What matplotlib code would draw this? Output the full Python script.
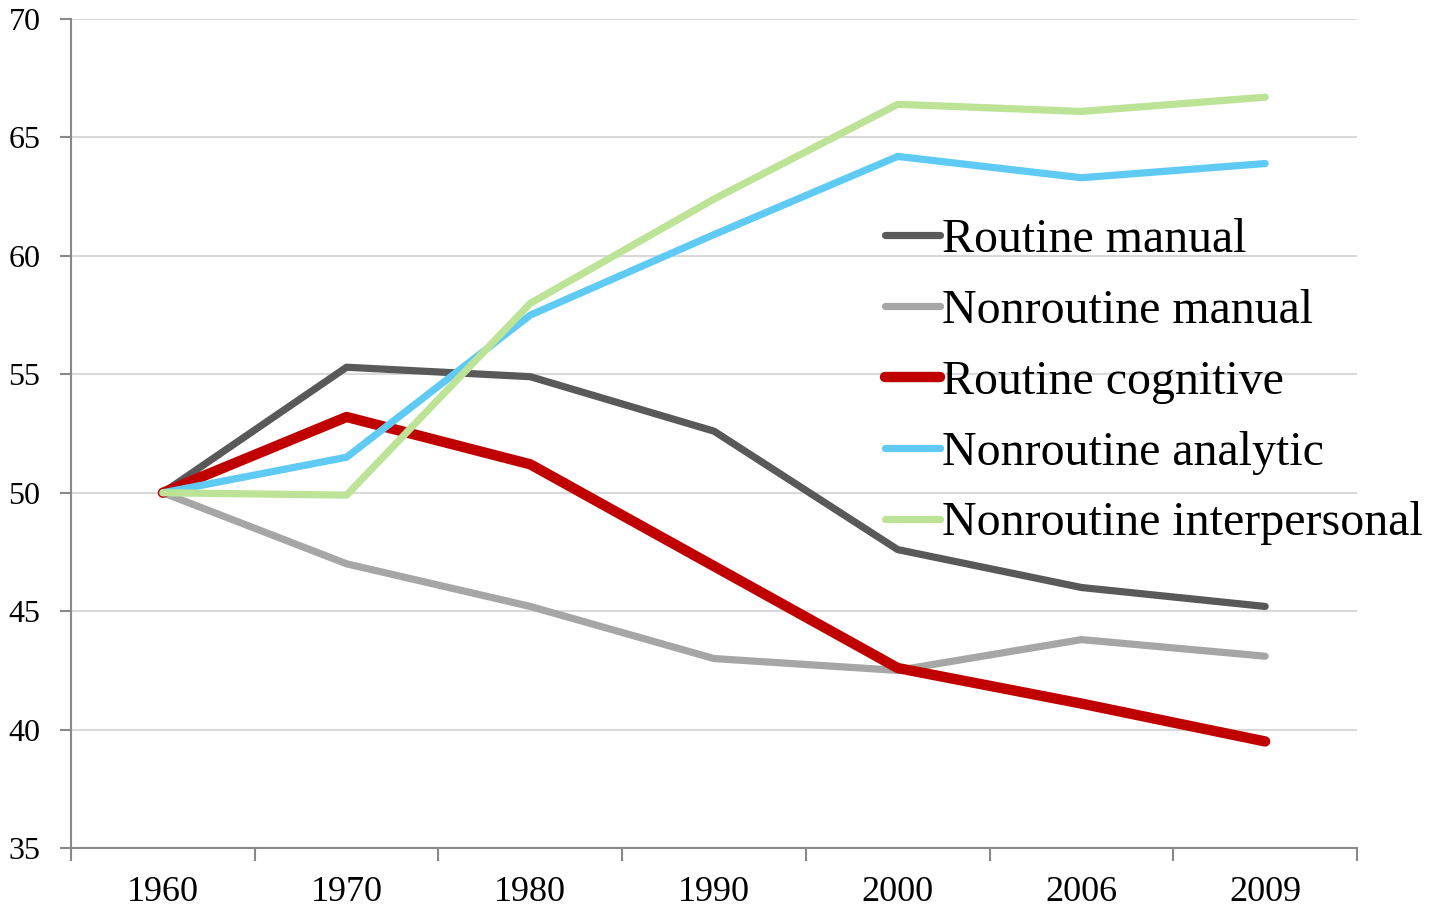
import numpy as np
import matplotlib
matplotlib.use("Agg")
import matplotlib.pyplot as plt

years = ["1960", "1970", "1980", "1990", "2000", "2006", "2009"]
routine_manual = [50, 55.3, 54.9, 52.6, 47.6, 46.0, 45.2]
nonroutine_manual = [50, 47.0, 45.2, 43.0, 42.5, 43.8, 43.1]
routine_cognitive = [50, 53.2, 51.2, 46.9, 42.6, 41.1, 39.5]
nonroutine_analytic = [50, 51.5, 57.5, 60.9, 64.2, 63.3, 63.9]
nonroutine_interpersonal = [50, 49.9, 58.0, 62.4, 66.4, 66.1, 66.7]

plt.rcParams['font.family'] = ['Liberation Serif', 'DejaVu Serif']

fig = plt.figure(figsize=(14.41, 9.07), dpi=100)
ax = fig.add_axes([0.0493, 0.065, 0.8924, 0.914])

x = np.arange(len(years))
series = [
    ("Routine manual", routine_manual, "#595959", 5.2),
    ("Nonroutine manual", nonroutine_manual, "#a6a6a6", 5.2),
    ("Routine cognitive", routine_cognitive, "#c00000", 7.5),
    ("Nonroutine analytic", nonroutine_analytic, "#5fcbf5", 5.2),
    ("Nonroutine interpersonal", nonroutine_interpersonal, "#bde396", 5.2),
]
for name, vals, col, lw in series:
    ax.plot(x, vals, color=col, lw=lw, label=name,
            solid_capstyle='round', solid_joinstyle='round')

ax.set_xlim(-0.5, len(years) - 0.5)
ax.set_ylim(35, 70)
ax.set_yticks(np.arange(35, 71, 5))
ax.set_xticks(x)
ax.set_xticklabels(years)
ax.set_xticks(np.arange(-0.5, len(years)), minor=True)
ax.tick_params(axis='x', which='major', length=0, labelsize=26, pad=20)
ax.tick_params(axis='x', which='minor', length=9, width=1.5, color='#898989')
ax.tick_params(axis='y', length=8, width=1.5, color='#898989', labelsize=23, pad=14)

ax.grid(axis='y', color='#d9d9d9', lw=1.5)
ax.set_axisbelow(True)
for s in ['top', 'right']:
    ax.spines[s].set_visible(False)
for s in ['left', 'bottom']:
    ax.spines[s].set_color('#898989')
    ax.spines[s].set_linewidth(1.5)

leg = ax.legend(loc='upper left', bbox_to_anchor=(0.6326, 0.760), frameon=False,
                fontsize=34.5, handlelength=1.15, handletextpad=0.05,
                labelspacing=0.56, borderaxespad=0, borderpad=0)

fig.savefig("out.png", dpi=100)
